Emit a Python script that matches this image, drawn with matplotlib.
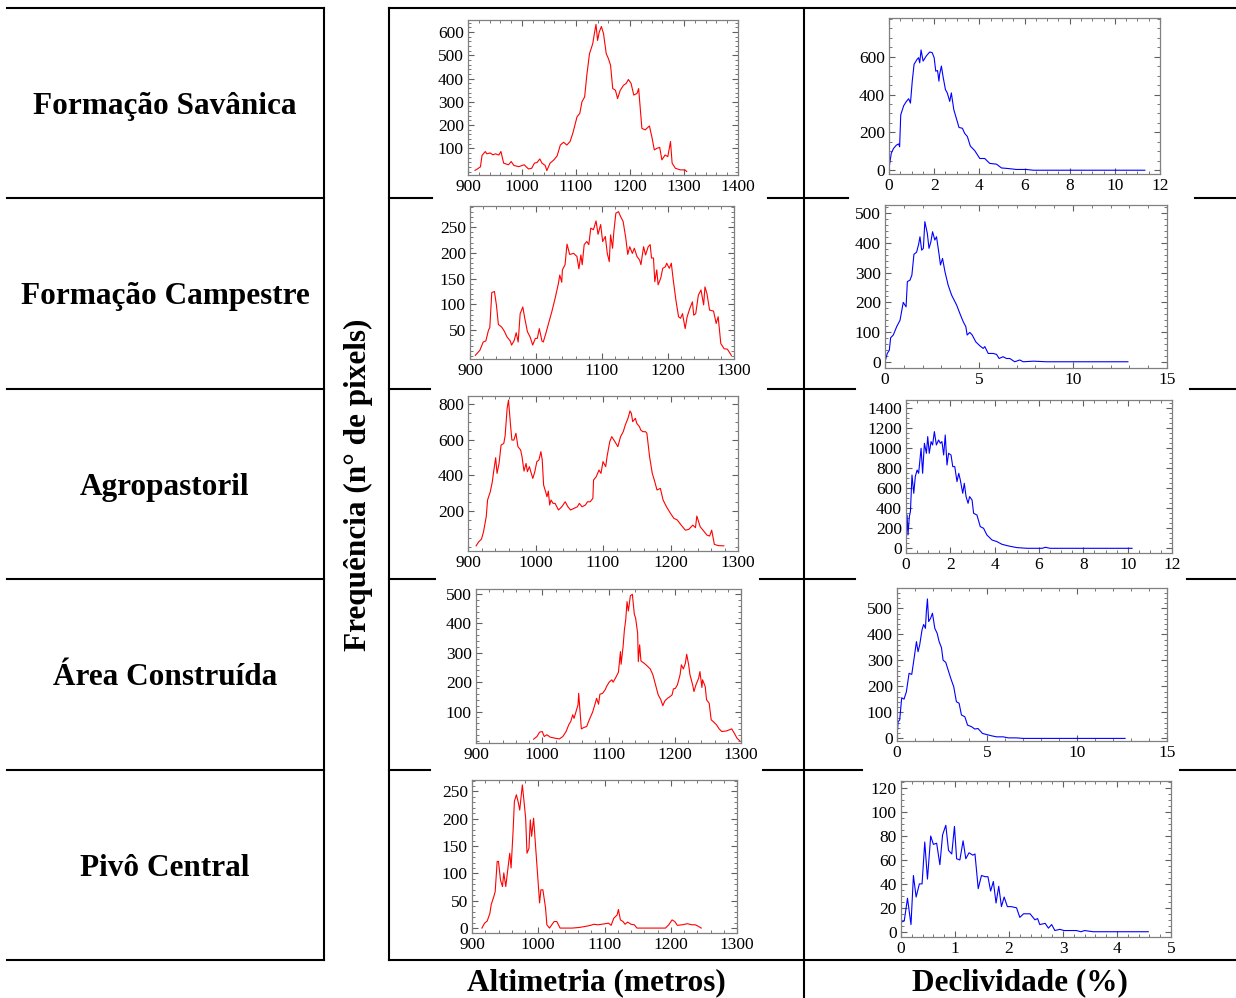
import numpy as np
import matplotlib
matplotlib.use("Agg")
import matplotlib.pyplot as plt
from matplotlib.ticker import MultipleLocator

plt.rcParams['font.family'] = ['Liberation Serif', 'DejaVu Serif']

# row labels / column headers
classes = ["Formação Savânica", "Formação Campestre", "Agropastoril",
           "Área Construída", "Pivô Central"]
col_titles = ["Altimetria (metros)", "Declividade (%)"]
ylabel = "Frequência (n° de pixels)"

# ---- Formação Savânica
sav_alt_x = [913, 918, 923, 926, 932, 935, 941, 946, 951, 957, 961, 966, 975, 980, 985, 994,
             1004, 1012, 1018, 1023, 1028, 1033, 1037, 1043, 1046, 1052, 1059, 1065, 1071,
             1077, 1083, 1089, 1094, 1102, 1107, 1111, 1116, 1120, 1125, 1131, 1134, 1137,
             1140, 1143, 1147, 1151, 1156, 1160, 1164, 1168, 1173, 1177, 1182, 1188, 1193,
             1197, 1202, 1207, 1213, 1216, 1222, 1228, 1236, 1241, 1245, 1250, 1255, 1259,
             1265, 1270, 1275, 1278, 1284, 1293, 1302, 1305]
sav_alt_y = [5, 12, 20, 69, 86, 76, 80, 72, 76, 71, 86, 36, 29, 43, 26, 21,
             29, 11, 14, 36, 39, 54, 36, 26, 4, 36, 50, 67, 114,
             126, 114, 129, 164, 236, 250, 300, 321, 414, 507, 550, 593, 633,
             564, 600, 624, 593, 507, 486, 457, 357, 350, 314, 350, 371, 379,
             396, 379, 329, 336, 357, 186, 179, 196, 143, 93, 100, 104, 50,
             71, 64, 129, 36, 14, 7, 7, 0]
sav_dec_x = [0.0, 0.1, 0.2, 0.33, 0.43, 0.47, 0.52, 0.65, 0.77, 0.87, 0.95, 1.03, 1.11, 1.24,
             1.31, 1.36, 1.42, 1.51, 1.65, 1.8, 1.91, 2.0, 2.07, 2.15, 2.21, 2.24, 2.32, 2.39,
             2.5, 2.58, 2.69, 2.76, 2.87, 2.98, 3.1, 3.25, 3.35, 3.47, 3.6, 3.8, 4.02, 4.24,
             4.46, 4.76, 4.98, 5.27, 5.64, 6.09, 6.38, 6.97, 11.33]
sav_dec_y = [9, 89, 115, 133, 139, 124, 293, 341, 364, 378, 355, 471, 560, 586,
             595, 568, 636, 577, 604, 625, 622, 595, 524, 527, 471, 506, 551, 497,
             426, 409, 364, 409, 320, 275, 226, 222, 195, 178, 128, 103, 62, 62,
             36, 32, 12, 9, 4, 4, 0, 0, 0]

# ---- Formação Campestre
cam_alt_x = [908, 915, 920, 924, 928, 930, 933, 937, 940, 943, 948, 952, 956, 961, 963, 967,
             970, 973, 976, 980, 983, 987, 991, 995, 999, 1002, 1005, 1009, 1011, 1015, 1019,
             1024, 1029, 1034, 1036, 1039, 1040, 1044, 1047, 1051, 1057, 1062, 1065, 1068,
             1070, 1073, 1077, 1080, 1083, 1087, 1091, 1094, 1098, 1101, 1105, 1108, 1111,
             1113, 1116, 1118, 1121, 1125, 1128, 1132, 1136, 1139, 1142, 1146, 1149, 1153,
             1157, 1159, 1163, 1166, 1170, 1173, 1175, 1178, 1180, 1183, 1185, 1189, 1192,
             1196, 1198, 1202, 1205, 1208, 1212, 1216, 1219, 1222, 1226, 1229, 1233, 1237,
             1239, 1242, 1246, 1250, 1254, 1256, 1259, 1263, 1269, 1273, 1276, 1280, 1285,
             1290, 1296]
cam_alt_y = [1, 11, 27, 29, 50, 55, 123, 125, 99, 61, 56, 48, 37, 29, 21, 30,
             45, 27, 82, 95, 73, 47, 37, 21, 34, 34, 53, 29, 27, 44, 63,
             86, 112, 141, 157, 143, 167, 177, 217, 197, 199, 193, 169, 196,
             177, 216, 222, 216, 248, 245, 262, 236, 255, 222, 232, 199, 183,
             235, 209, 242, 277, 280, 271, 261, 229, 197, 212, 199, 209, 193,
             186, 177, 212, 196, 212, 216, 190, 190, 144, 167, 138, 151, 170,
             173, 180, 170, 180, 147, 108, 76, 73, 82, 53, 76, 92, 105,
             79, 82, 118, 128, 99, 134, 121, 89, 87, 63, 76, 24, 14,
             13, 1]
cam_dec_x = [0.0, 0.12, 0.23, 0.3, 0.44, 0.62, 0.8, 0.97, 1.12, 1.19, 1.33, 1.43, 1.54, 1.68,
             1.79, 1.86, 1.95, 2.04, 2.12, 2.25, 2.34, 2.44, 2.53, 2.65, 2.74, 2.88, 2.95,
             3.06, 3.19, 3.36, 3.54, 3.81, 3.98, 4.16, 4.3, 4.37, 4.51, 4.64, 4.83, 5.04,
             5.22, 5.31, 5.49, 5.75, 5.93, 6.07, 6.28, 6.46, 6.64, 6.9, 7.17, 7.35, 7.9,
             8.6, 9.47, 12.92]
cam_dec_y = [0, 28, 39, 81, 90, 118, 140, 200, 185, 270, 275, 292, 362, 369,
             396, 421, 376, 382, 472, 433, 382, 404, 438, 410, 421, 360, 326,
             348, 303, 258, 225, 191, 163, 135, 118, 90, 99, 90, 67, 54,
             45, 51, 28, 28, 25, 11, 17, 11, 11, 0, 6, 0, 2,
             0, 0, 0]

# ---- Agropastoril
agr_alt_x = [912, 916, 920, 923, 927, 929, 933, 936, 938, 941, 943, 946, 949, 953, 955, 958,
             960, 963, 965, 968, 971, 974, 978, 980, 983, 986, 988, 991, 993, 996, 999, 1002,
             1005, 1008, 1010, 1012, 1015, 1017, 1019, 1021, 1023, 1026, 1029, 1034, 1039,
             1044, 1048, 1052, 1057, 1062, 1065, 1069, 1074, 1077, 1081, 1085, 1086, 1090,
             1094, 1097, 1100, 1104, 1106, 1110, 1113, 1117, 1122, 1126, 1130, 1133, 1137,
             1140, 1142, 1144, 1148, 1150, 1154, 1156, 1159, 1163, 1165, 1169, 1173, 1176,
             1180, 1185, 1189, 1194, 1200, 1205, 1210, 1215, 1222, 1227, 1233, 1237, 1239,
             1244, 1250, 1254, 1258, 1261, 1265, 1271, 1279]
agr_alt_y = [5, 28, 43, 84, 168, 262, 308, 364, 421, 499, 411, 467, 570, 579, 622, 776,
             822, 682, 598, 598, 636, 561, 542, 505, 424, 467, 421, 449, 421, 383, 421, 477,
             486, 533, 486, 346, 308, 280, 312, 234, 262, 243, 243, 206, 224,
             252, 224, 206, 215, 224, 243, 224, 234, 252, 252, 271, 374, 393,
             430, 411, 477, 449, 505, 589, 617, 593, 561, 617, 645, 682, 720,
             761, 748, 701, 720, 692, 673, 654, 645, 645, 636, 505, 411, 374,
             318, 327, 262, 224, 187, 159, 150, 125, 93, 97, 121, 107, 172,
             112, 84, 65, 60, 93, 13, 6, 5]
agr_dec_x = [0.0, 0.05, 0.09, 0.15, 0.2, 0.27, 0.35, 0.42, 0.5, 0.57, 0.68, 0.75, 0.83, 0.92,
             0.98, 1.05, 1.13, 1.2, 1.28, 1.37, 1.47, 1.55, 1.62, 1.7, 1.77, 1.85, 1.92,
             2.03, 2.11, 2.2, 2.3, 2.38, 2.45, 2.56, 2.63, 2.71, 2.8, 2.87, 2.98, 3.05,
             3.2, 3.35, 3.5, 3.65, 3.88, 4.1, 4.33, 4.63, 5.0, 5.46, 5.9, 6.14, 6.29,
             6.5, 10.2]
agr_dec_y = [33, 333, 133, 317, 367, 733, 550, 717, 783, 750, 1000, 750, 1050, 950,
             1117, 950, 1067, 1033, 1167, 1033, 1083, 1050, 1067, 933, 1133, 833, 950,
             933, 817, 817, 667, 750, 683, 550, 650, 517, 450, 517, 483, 350,
             333, 217, 200, 133, 83, 67, 40, 23, 7, 0, 0, 0, 10,
             0, 0]

# ---- Área Construída
urb_alt_x = [987, 992, 996, 1000, 1003, 1007, 1012, 1020, 1026, 1031, 1036, 1040, 1043, 1046,
             1048, 1051, 1054, 1055, 1059, 1063, 1067, 1071, 1076, 1080, 1082, 1085, 1087,
             1091, 1095, 1097, 1101, 1105, 1107, 1111, 1115, 1118, 1119, 1122, 1124, 1126,
             1128, 1130, 1133, 1136, 1139, 1141, 1144, 1145, 1147, 1149, 1154, 1158, 1163,
             1167, 1171, 1175, 1179, 1182, 1185, 1189, 1193, 1196, 1198, 1201, 1204, 1208,
             1210, 1213, 1216, 1218, 1221, 1223, 1227, 1229, 1232, 1236, 1238, 1241, 1242,
             1246, 1248, 1252, 1255, 1258, 1263, 1267, 1271, 1278, 1286, 1290, 1294, 1298]
urb_alt_y = [6, 15, 30, 32, 15, 21, 13, 9, 7, 15, 32, 55, 66, 89,
             77, 100, 123, 162, 41, 46, 49, 72, 98, 128, 145, 125, 159,
             162, 174, 185, 200, 208, 200, 216, 234, 304, 261, 321, 378, 412,
             474, 442, 494, 499, 431, 417, 366, 270, 327, 272, 264, 256, 245,
             225, 191, 157, 140, 120, 136, 145, 151, 157, 177, 179, 191, 225,
             259, 245, 264, 295, 259, 225, 191, 168, 191, 213, 236, 182, 208,
             185, 140, 128, 72, 66, 55, 41, 32, 34, 41, 26, 9, 1]
urb_dec_x = [0.0, 0.06, 0.15, 0.26, 0.39, 0.52, 0.67, 0.82, 0.95, 1.08, 1.17, 1.26, 1.39, 1.48,
             1.58, 1.63, 1.69, 1.76, 1.87, 1.97, 2.1, 2.23, 2.34, 2.47, 2.56, 2.71, 2.84,
             3.02, 3.15, 3.3, 3.45, 3.58, 3.77, 3.92, 4.14, 4.32, 4.5, 4.75, 4.97, 5.25,
             5.53, 5.9, 6.18, 6.64, 7.0, 12.67]
urb_dec_y = [3, 64, 71, 156, 151, 179, 250, 246, 308, 372, 333, 359, 417, 438,
             423, 487, 536, 449, 462, 481, 423, 404, 372, 349, 301, 292, 263,
             224, 199, 141, 135, 90, 83, 51, 45, 36, 38, 19, 15, 10,
             6, 6, 2, 2, 0, 0]

# ---- Pivô Central
piv_alt_x = [915, 919, 923, 927, 929, 933, 935, 938, 940, 943, 946, 948, 951, 954, 957, 959,
             962, 964, 967, 970, 972, 976, 978, 981, 983, 986, 988, 990, 993, 996, 999, 1002,
             1004, 1007, 1011, 1013, 1017, 1021, 1024, 1028, 1033, 1051, 1061, 1071, 1079,
             1084, 1090, 1096, 1106, 1110, 1114, 1119, 1121, 1124, 1128, 1131, 1135, 1140,
             1145, 1149, 1192, 1197, 1202, 1206, 1210, 1217, 1225, 1232, 1237, 1242, 1246]
piv_alt_y = [0, 9, 13, 27, 43, 58, 67, 122, 122, 88, 76, 101, 76, 107, 137, 110,
             177, 232, 244, 229, 216, 262, 238, 201, 137, 146, 198, 168, 201, 149, 98, 46,
             70, 70, 37, 6, 0, 7, 12, 12, 0, 0, 1, 3, 5,
             7, 6, 7, 9, 5, 18, 24, 34, 15, 12, 7, 11, 7,
             6, 0, 0, 6, 15, 12, 5, 6, 8, 6, 6, 3, 0]
piv_dec_x = [0.0, 0.06, 0.12, 0.185, 0.23, 0.28, 0.34, 0.39, 0.44, 0.49, 0.55, 0.6, 0.66, 0.72,
             0.77, 0.83, 0.88, 0.94, 0.99, 1.03, 1.09, 1.15, 1.2, 1.26, 1.33, 1.37, 1.43,
             1.49, 1.56, 1.61, 1.66, 1.71, 1.76, 1.81, 1.86, 1.91, 1.97, 2.04, 2.14, 2.2,
             2.27, 2.39, 2.48, 2.53, 2.57, 2.67, 2.73, 2.79, 2.85, 2.94, 3.02, 3.25, 3.33,
             3.4, 3.56, 3.75, 3.99, 4.24, 4.58]
piv_dec_y = [8, 9, 28, 6, 47, 29, 40, 40, 75, 44, 80, 73, 74, 56,
             81, 89, 68, 65, 88, 61, 60, 76, 61, 66, 64, 65, 36,
             47, 46, 46, 34, 42, 24, 38, 21, 29, 21, 21, 20, 12,
             15, 15, 10, 11, 6, 7, 3, 6, 1, 2, 1, 1, 0,
             1, 0, 0, 0, 0, 0]

alt_data = [(sav_alt_x, sav_alt_y), (cam_alt_x, cam_alt_y), (agr_alt_x, agr_alt_y),
            (urb_alt_x, urb_alt_y), (piv_alt_x, piv_alt_y)]
dec_data = [(sav_dec_x, sav_dec_y), (cam_dec_x, cam_dec_y), (agr_dec_x, agr_dec_y),
            (urb_dec_x, urb_dec_y), (piv_dec_x, piv_dec_y)]

W, H = 1236, 998
fig = plt.figure(figsize=(W / 100, H / 100), dpi=100)

# background axes in pixel coords for the table grid and texts
bg = fig.add_axes([0, 0, 1, 1], zorder=-1)
bg.set_xlim(0, W)
bg.set_ylim(H, 0)
bg.axis('off')

rows_y = [8, 198, 389, 579, 770, 960]
lw = 1.5
for y in rows_y:
    bg.plot([7, 324], [y, y], color='black', lw=lw)
# right table: horizontal lines are partly hidden behind the plot images
right_segs = {
    8: [(389, 1236)],
    198: [(389, 432), (768, 848), (1195, 1236)],
    389: [(389, 430), (768, 855), (1190, 1236)],
    579: [(389, 435), (760, 855), (1187, 1236)],
    770: [(389, 430), (763, 862), (1180, 1236)],
    960: [(389, 1236)],
}
for y, segs in right_segs.items():
    for x0, x1 in segs:
        bg.plot([x0, x1], [y, y], color='black', lw=lw)
bg.plot([324, 324], [8, 960], color='black', lw=lw)
bg.plot([389, 389], [8, 960], color='black', lw=lw)
bg.plot([804, 804], [8, 998], color='black', lw=lw)

for i, name in enumerate(classes):
    yc = (rows_y[i] + rows_y[i + 1]) / 2 + 3
    bg.text(165, yc, name, ha='center', va='center', fontsize=22.5, fontweight='bold')

bg.text(358, 485, ylabel, rotation=90, ha='center', va='center', fontsize=22.5,
        fontweight='bold')
bg.text(596, 983, col_titles[0], ha='center', va='center', fontsize=22.5, fontweight='bold')
bg.text(1020, 983, col_titles[1], ha='center', va='center', fontsize=22.5, fontweight='bold')

# plot frames in pixels: (left, top, right, bottom)
alt_boxes = [(468, 20, 738, 175), (470, 206, 734, 359), (468, 396, 738, 551),
             (476, 589, 741, 743), (472, 780, 737, 933)]
dec_boxes = [(889, 18, 1160, 174), (885, 205, 1167, 368), (906, 400, 1172, 553),
             (897, 588, 1167, 741), (901, 781, 1171, 937)]

alt_ylims = [(-15, 652), (-6, 291), (-24, 845), (-7, 517), (-9, 271)]
alt_yticks = [[100, 200, 300, 400, 500, 600], [50, 100, 150, 200, 250],
              [200, 400, 600, 800], [100, 200, 300, 400, 500], [0, 50, 100, 150, 200, 250]]
alt_yminor = [20, 10, 50, 20, 10]
alt_xlims = [(900, 1400), (900, 1300), (900, 1300), (900, 1300), (900, 1300)]

dec_ylims = [(-20, 805), (-21, 528), (-47, 1483), (-10, 578), (-4.4, 126)]
dec_yticks = [[0, 200, 400, 600], [0, 100, 200, 300, 400, 500],
              [0, 200, 400, 600, 800, 1000, 1200, 1400], [0, 100, 200, 300, 400, 500],
              [0, 20, 40, 60, 80, 100, 120]]
dec_yminor = [50, 20, 50, 20, 5]
dec_xlims = [(0, 12), (0, 15), (0, 12), (0, 15), (0, 5)]
dec_xmajor = [2, 5, 2, 5, 1]
dec_xminor = [0.5, 1, 0.5, 1, 0.2]


def make_ax(box):
    x0, y0, x1, y1 = box
    ax = fig.add_axes([x0 / W, 1 - y1 / H, (x1 - x0) / W, (y1 - y0) / H])
    for sp in ax.spines.values():
        sp.set_color('#808080')
        sp.set_linewidth(0.9)
    ax.tick_params(which='both', direction='in', top=True, right=True,
                   color='#606060', labelcolor='black', labelsize=12.5, pad=3)
    ax.tick_params(which='major', length=4, width=0.8)
    ax.tick_params(which='minor', length=2, width=0.6)
    return ax


for i in range(5):
    ax = make_ax(alt_boxes[i])
    x, y = alt_data[i]
    ax.plot(x, y, color='#ff0000', lw=0.8)
    ax.set_xlim(*alt_xlims[i])
    ax.set_ylim(*alt_ylims[i])
    ax.xaxis.set_major_locator(MultipleLocator(100))
    ax.xaxis.set_minor_locator(MultipleLocator(20))
    ax.set_yticks(alt_yticks[i])
    ax.yaxis.set_minor_locator(MultipleLocator(alt_yminor[i]))

    ax = make_ax(dec_boxes[i])
    x, y = dec_data[i]
    ax.plot(x, y, color='#0000ff', lw=0.8)
    ax.set_xlim(*dec_xlims[i])
    ax.set_ylim(*dec_ylims[i])
    ax.xaxis.set_major_locator(MultipleLocator(dec_xmajor[i]))
    ax.xaxis.set_minor_locator(MultipleLocator(dec_xminor[i]))
    ax.set_yticks(dec_yticks[i])
    ax.yaxis.set_minor_locator(MultipleLocator(dec_yminor[i]))

fig.savefig("out.png", dpi=100, facecolor='white')
